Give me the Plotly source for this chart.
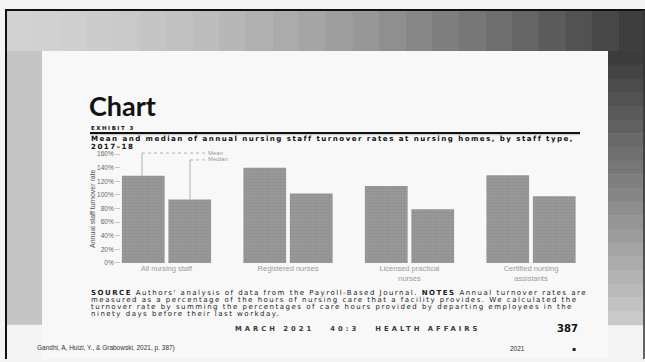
import plotly.graph_objects as go

# ---------------- data ----------------
categories = ["All nursing staff", "Registered nurses",
              "Licensed practical<br>nurses", "Certified nursing<br>assistants"]
series_names = ["Mean", "Median"]
mean_values = [128, 140, 113, 129]
median_values = [93, 102, 79, 98]
y_tick_values = [0, 20, 40, 60, 80, 100, 120, 140, 160]
y_tick_labels = ["0%", "20%", "40%", "60%", "80%", "100%", "120%", "140%", "160%"]

W, H = 645, 362


def px(x):
    return x / W


def py(y):
    return 1 - y / H


def lerp_hex(c1, c2, t):
    a = [int(c1[i:i + 2], 16) for i in (1, 3, 5)]
    b = [int(c2[i:i + 2], 16) for i in (1, 3, 5)]
    return "#" + "".join(f"{round(a[k] + (b[k] - a[k]) * t):02x}" for k in range(3))


Y_DOM = (py(264), py(153))
X_DOM = (px(105.75), px(591.75))

bar_color = "#8e8e8e"
pattern = dict(shape=".", fgcolor="#7b7b7b", bgcolor="#9a9a9a", size=3, solidity=0.35)

fig = go.Figure()
fig.add_trace(go.Bar(x=categories, y=mean_values, name=series_names[0],
                     marker=dict(color=bar_color, line=dict(width=0), pattern=pattern)))
fig.add_trace(go.Bar(x=categories, y=median_values, name=series_names[1],
                     marker=dict(color=bar_color, line=dict(width=0), pattern=pattern)))

shapes = []
# page surround: top band gradient (light left -> dark right)
n = 24
top_l, top_r = "#d2d2d2", "#3e3e3e"
for i in range(n):
    x0 = 6 + (W - 6) * i / n
    x1 = 6 + (W - 6) * (i + 1) / n
    t = (i / (n - 1)) ** 1.6
    shapes.append(dict(type="rect", xref="paper", yref="paper", layer="below",
                       x0=px(x0), x1=px(x1 + 0.5), y0=py(48), y1=py(6),
                       fillcolor=lerp_hex(top_l, top_r, t), line=dict(width=0)))
# left band
shapes.append(dict(type="rect", xref="paper", yref="paper", layer="below",
                   x0=px(6), x1=px(42), y0=py(327), y1=py(48),
                   fillcolor="#c5c5c5", line=dict(width=0)))
# right band (dark top -> light bottom)
m = 20
for i in range(m):
    y0 = 48 + (327 - 48) * i / m
    y1 = 48 + (327 - 48) * (i + 1) / m
    t = i / (m - 1)
    shapes.append(dict(type="rect", xref="paper", yref="paper", layer="below",
                       x0=px(608), x1=px(W), y0=py(y1 + 0.5), y1=py(y0),
                       fillcolor=lerp_hex("#3c3c3c", "#c9c9c9", t), line=dict(width=0)))
# white page
shapes.append(dict(type="rect", xref="paper", yref="paper", layer="below",
                   x0=px(42), x1=px(608), y0=py(H), y1=py(48),
                   fillcolor="#f8f8f8", line=dict(width=0)))
# black frame lines
shapes.append(dict(type="line", xref="paper", yref="paper", x0=px(5), x1=px(W), y0=py(6), y1=py(6),
                   line=dict(color="#111111", width=2)))
shapes.append(dict(type="line", xref="paper", yref="paper", x0=px(6), x1=px(6), y0=py(6), y1=py(H),
                   line=dict(color="#111111", width=2)))
shapes.append(dict(type="line", xref="paper", yref="paper", x0=px(644), x1=px(644), y0=py(6), y1=py(H),
                   line=dict(color="#333333", width=1.5)))
# exhibit rule
shapes.append(dict(type="line", xref="paper", yref="paper", x0=px(90), x1=px(580), y0=py(131.5), y1=py(131.5),
                   line=dict(color="#111111", width=2)))
shapes.append(dict(type="line", xref="paper", yref="paper", x0=px(90), x1=px(580), y0=py(133.3), y1=py(133.3),
                   line=dict(color="#9a9a9a", width=0.6)))


def val_to_paper(v):
    return Y_DOM[0] + v / 160 * (Y_DOM[1] - Y_DOM[0])


# leader lines to the legend labels
lead_col = "#b0b0b0"
mean_x, med_x = px(142), px(190)
shapes += [
    dict(type="line", xref="paper", yref="paper", x0=mean_x, x1=mean_x,
         y0=val_to_paper(mean_values[0]), y1=py(152), line=dict(color=lead_col, width=1)),
    dict(type="line", xref="paper", yref="paper", x0=mean_x, x1=px(205),
         y0=py(152), y1=py(152), line=dict(color=lead_col, width=1, dash="dot")),
    dict(type="line", xref="paper", yref="paper", x0=med_x, x1=med_x,
         y0=val_to_paper(median_values[0]), y1=py(159), line=dict(color=lead_col, width=1)),
    dict(type="line", xref="paper", yref="paper", x0=med_x, x1=px(205),
         y0=py(159), y1=py(159), line=dict(color=lead_col, width=1, dash="dot")),
]

bold_font = "DejaVu Sans"
annotations = []


def note(text, x, y, size, color="#111111", family=bold_font, xanchor="left", **kw):
    kw.setdefault("borderpad", 0)
    annotations.append(dict(text=text, x=px(x), y=py(y), xref="paper", yref="paper",
                            xanchor=xanchor, yanchor="middle", showarrow=False,
                            font=dict(size=size, color=color, family=family), **kw))


note("<b>Chart</b>", 88, 103, 27, family="Lato, Open Sans, sans-serif")
note("<b><span style='letter-spacing:1.5px'>EXHIBIT 3</span></b>", 90, 126.5, 5.5)
note("<b><span style='letter-spacing:1.45px'>Mean and median of annual nursing staff turnover rates at nursing homes, by staff type,</span></b>",
     90, 137.6, 7.1)
note("<b><span style='letter-spacing:1.45px'>2017–18</span></b>", 90, 145.0, 7.1)

note(series_names[0], 207, 151.5, 6, color="#9a9a9a", family="Liberation Sans")
note(series_names[1], 207, 158.5, 6, color="#9a9a9a", family="Liberation Sans")

annotations.append(dict(text="Annual staff turnover rate", x=px(93), y=py(209), xref="paper", yref="paper",
                        showarrow=False, textangle=-90, xanchor="center", yanchor="middle",
                        font=dict(size=7, color="#555555", family="Liberation Sans")))

src_lines = [
    "<b>SOURCE</b> Authors' analysis of data from the Payroll-Based Journal. <b>NOTES</b> Annual turnover rates are",
    "measured as a percentage of the hours of nursing care that a facility provides. We calculated the",
    "turnover rate by summing the percentages of care hours provided by departing employees in the",
    "ninety days before their last workday.",
]
for i, line in enumerate(src_lines):
    note("<span style='letter-spacing:1.5px'>" + line + "</span>", 90, 295 + 7 * i, 7.0,
         color="#222222", family="DejaVu Sans")

note("<b><span style='letter-spacing:3px'>MARCH 2021   40:3   HEALTH AFFAIRS</span></b>", 234, 331, 6.8,
     color="#3a3a3a", family="DejaVu Sans")
note("<b>387</b>", 556, 331, 10, color="#111111", family="DejaVu Sans")

note("Gandhi, A, Huizi, Y., & Grabowski, 2021, p. 387)", 36, 351, 6.5, color="#333333",
     family="Liberation Sans Narrow, Liberation Sans")
note("2021", 509, 351, 6.5, color="#333333", family="Liberation Sans Narrow, Liberation Sans")
note("▪", 571, 351, 6, color="#222222", family="DejaVu Sans")

fig.update_layout(
    width=W, height=H, margin=dict(l=0, r=0, t=0, b=0),
    paper_bgcolor="#f3f3f3", plot_bgcolor="rgba(0,0,0,0)",
    showlegend=False, barmode="group", bargap=0.235, bargroupgap=0.08,
    shapes=shapes, annotations=annotations,
    xaxis=dict(domain=list(X_DOM), range=[-0.5, 3.5], showgrid=False, showline=False, zeroline=False,
               ticks="", tickfont=dict(size=7.5, color="#9a9a9a", family="Liberation Sans")),
    yaxis=dict(domain=list(Y_DOM), range=[0, 160], anchor="free", position=px(120),
               tickvals=y_tick_values, ticktext=y_tick_labels,
               showgrid=False, showline=False, zeroline=False,
               ticks="outside", ticklen=5, tickcolor="#c8c8c8", tickwidth=1,
               tickfont=dict(size=6.5, color="#666666", family="Liberation Sans")),
)

fig.write_html("out.html")
